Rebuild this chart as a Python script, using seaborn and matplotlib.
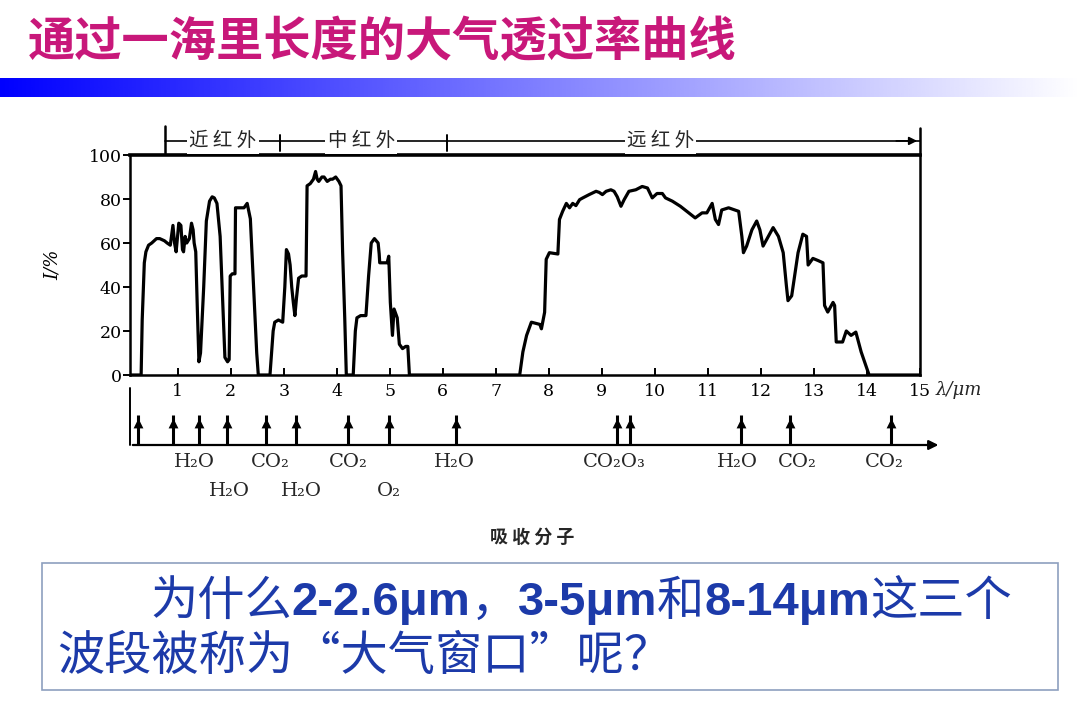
import numpy as np
import pandas as pd
import matplotlib
matplotlib.use('Agg')
import matplotlib.pyplot as plt
from matplotlib.colors import LinearSegmentedColormap
from matplotlib.patches import Rectangle
import seaborn as sns

# Transmittance curve (wavelength in um, transmittance in %)
wavelength = [
    0.10, 0.31, 0.33, 0.37, 0.40, 0.45, 0.51, 0.60, 0.66, 0.75, 0.80, 0.86, 0.91, 0.94,
    0.97, 1.02, 1.06, 1.09, 1.11, 1.14, 1.17, 1.22, 1.26, 1.29, 1.31, 1.34, 1.37, 1.40,
    1.43, 1.49, 1.54, 1.60, 1.65, 1.69, 1.74, 1.80, 1.86, 1.89, 1.94, 1.97, 1.99, 2.03,
    2.08, 2.09, 2.25, 2.31, 2.37, 2.43, 2.49, 2.52,
    2.74, 2.80, 2.83, 2.90, 2.98, 3.02, 3.05, 3.09, 3.12, 3.15, 3.18, 3.21, 3.24, 3.28,
    3.34, 3.42, 3.44, 3.50, 3.56, 3.60, 3.63, 3.66, 3.72, 3.76, 3.82, 3.88, 3.92, 3.98,
    4.04, 4.08, 4.11, 4.15, 4.18,
    4.31, 4.35, 4.38, 4.45, 4.55, 4.60, 4.65, 4.71, 4.78, 4.80, 4.81, 4.90, 4.95, 4.98,
    5.01, 5.05, 5.08, 5.11, 5.14, 5.18, 5.24, 5.30, 5.34, 5.37,
    7.45, 7.51, 7.58, 7.67, 7.83, 7.86, 7.92, 7.95, 8.01, 8.17, 8.20, 8.26, 8.33, 8.39,
    8.45, 8.51, 8.58, 8.64, 8.76, 8.89, 8.95, 9.01, 9.08, 9.17, 9.23, 9.29, 9.36, 9.42,
    9.51, 9.64, 9.76, 9.86, 9.95, 10.04, 10.14, 10.20, 10.33, 10.48, 10.64, 10.76, 10.89,
    10.98, 11.08, 11.14, 11.20, 11.26, 11.39, 11.58, 11.64, 11.67, 11.73, 11.83, 11.92,
    11.98, 12.04, 12.14, 12.23, 12.33, 12.42, 12.48, 12.51, 12.58, 12.70, 12.79, 12.86,
    12.89, 12.98, 13.08, 13.17, 13.20, 13.26, 13.36, 13.39, 13.42, 13.54, 13.61, 13.70,
    13.79, 13.89, 14.04, 15.00,
]
transmittance = [
    0, 0, 25, 51, 56, 59, 60, 62, 62, 61, 60, 59, 68, 60,
    56, 69, 68, 57, 56, 63, 60, 62, 69, 66, 60, 56, 30, 6,
    10, 40, 70, 79, 81, 80.5, 78, 63, 26, 8, 6, 7, 45, 46,
    46, 76, 76, 78, 71, 40, 10, 0,
    0, 20, 24, 25, 24, 40, 57, 55, 50, 40, 33, 27, 35, 44,
    45, 45, 86, 87, 89, 92.5, 89, 88, 90, 90, 88, 89, 89, 90,
    88, 86, 56, 26, 0,
    0, 20, 26, 27, 27, 45, 60, 62, 60, 55, 51, 51, 51, 54,
    33, 18, 30, 28, 26, 14, 12, 13, 13, 0,
    0, 10.5, 18, 24, 23, 21, 28.5, 52.6, 55.6, 55, 70.7, 74.4, 78, 76,
    78, 77, 79.7, 80.5, 82, 83.5, 83, 82, 83.5, 84.2, 83.5, 81, 76.7, 79.7,
    83.5, 84.2, 85.7, 85, 80.5, 82.5, 82.5, 80.5, 79, 76.7, 73.7, 71.4, 73.7,
    73.7, 78, 70.7, 68.4, 75, 76, 74.4, 63, 55.6, 58.6, 66, 70,
    66, 58.6, 63, 67, 63, 55.6, 40.6, 33.8, 36, 55.6, 64, 63,
    50, 53, 52, 51, 31.6, 28.6, 33, 31.6, 15, 15, 20, 18,
    19.5, 10.5, 0, 0,
]

x_ticks = list(range(1, 16))
y_ticks = [0, 20, 40, 60, 80, 100]

band_names = ['近 红 外', '中 红 外', '远 红 外']
band_centers = [1.85, 4.46, 10.11]
band_edges = [0.76, 2.92, 6.08]

# absorption arrows
absorb_x = [0.25, 0.91, 1.40, 1.93, 2.67, 3.23, 4.21, 4.99, 6.25, 9.28, 9.53, 11.62, 12.54, 14.45]

molecule_labels = ['H₂O', 'CO₂', 'CO₂', 'H₂O', 'CO₂O₃', 'H₂O', 'CO₂', 'CO₂', 'H₂O', 'H₂O', 'O₂']
molecule_x = [1.31, 2.75, 4.22, 6.21, 9.23, 11.56, 12.69, 14.33, 1.97, 3.34, 4.98]
molecule_row = [0, 0, 0, 0, 0, 0, 0, 0, 1, 1, 1]

title = '通过一海里长度的大气透过率曲线'
question_line1 = [('为什么', False), ('2-2.6μm', True), ('，', False), ('3-5μm', True),
                  ('和', False), ('8-14μm', True), ('这三个', False)]
question_line2 = [('波段被称为“大气窗口”呢？', False)]

sns.set_theme(style='white')
plt.rcParams['font.family'] = ['DejaVu Serif', 'Noto Sans CJK SC']

W, H = 1080, 701
fig = plt.figure(figsize=(W / 100, H / 100), dpi=100)
fig.patch.set_facecolor('white')


def fx(px):
    return px / W


def fy(px):
    return 1 - px / H


cjk = 'Noto Sans CJK SC'
blue = '#1c3aa9'

# title + gradient bar
fig.text(fx(28), fy(42), title, fontsize=34, color='#c8187a', fontweight='heavy',
         family=cjk, va='center', ha='left')
gax = fig.add_axes([0, fy(97), 1, 19 / H])
grad = LinearSegmentedColormap.from_list('bar', ['#0000ff', '#ffffff'])
gax.imshow(np.linspace(0, 1, 512)[None, :], cmap=grad, aspect='auto', extent=[0, 1, 0, 1])
gax.axis('off')

# main transmittance axes
df = pd.DataFrame({'wavelength': wavelength, 'transmittance': transmittance})
ax = fig.add_axes([fx(130), fy(375), fx(790), 220 / H])
sns.lineplot(data=df, x='wavelength', y='transmittance', sort=False, estimator=None,
             color='black', lw=2.3, ax=ax)
ax.set_xlim(0.1, 15)
ax.set_ylim(0, 100)
ax.set_xticks(x_ticks)
ax.set_yticks(y_ticks)
ax.set_xticklabels([str(t) for t in x_ticks])
ax.set_yticklabels([str(t) for t in y_ticks])
for s in ax.spines.values():
    s.set_color('black')
    s.set_linewidth(1.8)
ax.spines['top'].set_linewidth(2.6)
ax.tick_params(axis='x', direction='in', length=5, width=1.4, pad=6, labelsize=12.5,
               bottom=True, colors='black')
ax.tick_params(axis='y', direction='out', length=5, width=1.4, pad=1, labelsize=12.5,
               left=True, colors='black')
ax.set_xlabel('')
ax.set_ylabel('I/%', fontstyle='italic', fontsize=13, color='black')
ax.yaxis.set_label_coords(-0.086, 0.5)
ax.annotate('λ/μm', xy=(15.3, -0.068), xycoords=('data', 'axes fraction'),
            fontsize=13, fontstyle='italic', va='center', ha='left', annotation_clip=False)

# band bracket above the plot
trans = ax.get_xaxis_transform()
yb = 1.064
ax.plot([band_edges[0], 15], [yb, yb], transform=trans, clip_on=False, color='black', lw=1.2)
ax.plot([15, 15], [1.0, 1.123], transform=trans, clip_on=False, color='black', lw=1.8)
ax.plot([band_edges[0]] * 2, [1.01, 1.13], transform=trans, clip_on=False, color='black', lw=1.8)
for e in band_edges[1:]:
    ax.plot([e, e], [1.02, 1.09], transform=trans, clip_on=False, color='black', lw=1.4)
ax.annotate('', xy=(15, yb), xytext=(14.5, yb), xycoords=trans, textcoords=trans,
            arrowprops=dict(arrowstyle='-|>', lw=1.2, color='black', mutation_scale=12),
            annotation_clip=False)
for name, c in zip(band_names, band_centers):
    ax.text(c, yb, name, transform=trans, ha='center', va='center', fontsize=14,
            family=cjk, clip_on=False,
            bbox=dict(facecolor='white', edgecolor='none', pad=1.5))

# absorption molecules axis
ax2 = fig.add_axes([fx(130), fy(445), fx(790), 60 / H])
ax2.set_xlim(0.1, 15)
ax2.set_ylim(0, 1)
ax2.axis('off')
ax2.annotate('', xy=(15.4, 0), xytext=(0.1, 0),
             arrowprops=dict(arrowstyle='-|>', lw=1.6, color='black', mutation_scale=14),
             annotation_clip=False)
ax2.plot([0.1, 0.1], [0, 0.95], color='black', lw=1.4, clip_on=False)
ax2.vlines(absorb_x, 0, 0.5, color='black', lw=2.2)
sns.scatterplot(x=absorb_x, y=[0.36] * len(absorb_x), marker='^', s=50, color='black',
                linewidth=0, ax=ax2, legend=False)
ax2.set_xlim(0.1, 15)
ax2.set_ylim(0, 1)
for lab, x, r in zip(molecule_labels, molecule_x, molecule_row):
    ax2.text(x, -0.28 - 0.49 * r, lab, ha='center', va='center', fontsize=14,
             family='DejaVu Serif', clip_on=False)
ax2.text(7.68, -1.53, '吸 收 分 子', ha='center', va='center', fontsize=13,
         family=cjk, fontweight='bold', clip_on=False)

# question box
fig.patches.append(Rectangle((fx(42), fy(690)), fx(1016), 127 / H, transform=fig.transFigure,
                             fill=False, edgecolor='#8d9fbf', lw=1.2))


def draw_runs(x_px, y_px, runs):
    renderer = fig.canvas.get_renderer()
    x = fx(x_px)
    for s, bold in runs:
        fam = ['Liberation Sans', cjk] if bold else [cjk]
        t = fig.text(x, fy(y_px), s, fontsize=34, color=blue, va='baseline', ha='left',
                     family=fam, fontweight='bold' if bold else 'normal')
        bb = t.get_window_extent(renderer)
        x = fig.transFigure.inverted().transform((bb.x1, bb.y0))[0]


draw_runs(150, 615, question_line1)
draw_runs(57, 670, question_line2)

fig.savefig('out.png', dpi=100)
